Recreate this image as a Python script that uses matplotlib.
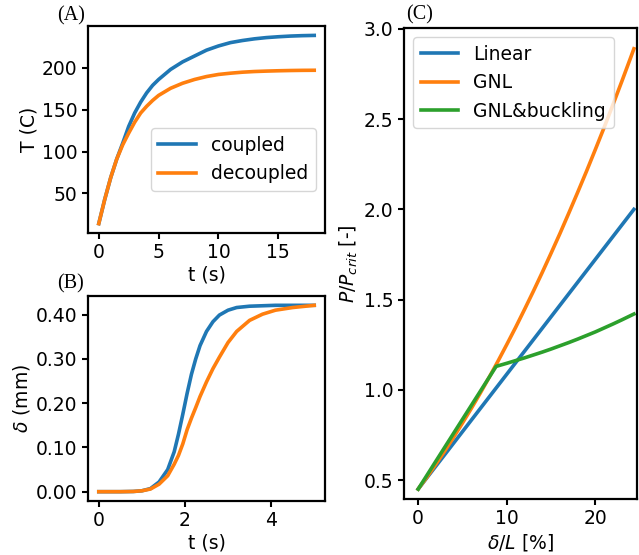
import matplotlib
matplotlib.use("Agg")
import matplotlib.pyplot as plt

# ---- data ----
# (A) temperature vs time
t_a = [0, 0.5, 1, 1.5, 2, 2.5, 3, 3.5, 4, 4.5, 5, 6, 7, 8, 9, 10, 11, 12, 13, 14,
       15, 16, 17, 18]
T_coupled = [14, 43, 69, 91, 110, 130, 146, 159, 170, 179, 186, 198, 207, 214,
             221, 226, 230, 232.5, 234.5, 236, 237, 237.8, 238.3, 238.6]
T_decoupled = [14, 43, 69, 91, 108, 122, 135, 146, 154, 161, 167, 175.5, 181.5,
               186, 189.5, 192, 193.5, 194.7, 195.5, 196, 196.4, 196.7, 196.9, 197]

# (B) deflection vs time
t_b = [0, 0.5, 0.8, 1.0, 1.2, 1.4, 1.6, 1.75, 1.85, 1.95, 2.05, 2.15, 2.25, 2.35,
       2.5, 2.65, 2.8, 3.0, 3.2, 3.5, 3.8, 4.1, 4.5, 5.0]
d_coupled = [0, 0, 0.0005, 0.002, 0.007, 0.022, 0.05, 0.09, 0.13, 0.175, 0.222,
             0.265, 0.30, 0.33, 0.362, 0.384, 0.399, 0.41, 0.416, 0.419, 0.42,
             0.421, 0.421, 0.421]
d_decoupled = [0, 0, 0.0005, 0.002, 0.006, 0.017, 0.036, 0.062, 0.082, 0.108, 0.14,
               0.166, 0.19, 0.215, 0.248, 0.278, 0.304, 0.337, 0.362, 0.387, 0.401,
               0.41, 0.416, 0.421]

# (C) load vs deflection
x_lin = [0, 24.35]
p_lin = [0.45, 2.0]
x_gnl = [0, 1, 2, 3, 4, 5, 6, 7, 8, 9, 10, 11, 12, 13, 14, 15, 16, 17, 18, 19,
         20, 21, 22, 23, 24, 24.35]
p_gnl = [0.45, 0.517, 0.588, 0.661, 0.737, 0.816, 0.897, 0.981, 1.068, 1.158,
         1.251, 1.346, 1.445, 1.546, 1.650, 1.757, 1.866, 1.979, 2.094, 2.211,
         2.332, 2.455, 2.582, 2.711, 2.843, 2.89]
x_buck = [0, 8.8, 10, 11, 12, 13, 14, 15, 16, 17, 18, 19, 20, 21, 22, 23, 24.35]
p_buck = [0.45, 1.13, 1.147, 1.162, 1.177, 1.193, 1.209, 1.226, 1.244, 1.262,
          1.281, 1.301, 1.321, 1.343, 1.365, 1.388, 1.42]

plt.rcParams['font.size'] = 13.5
plt.rcParams['axes.linewidth'] = 1.6
plt.rcParams['xtick.major.size'] = 4.5
plt.rcParams['ytick.major.size'] = 4.5
plt.rcParams['xtick.major.width'] = 1.5
plt.rcParams['ytick.major.width'] = 1.5
plt.rcParams['xtick.major.pad'] = 3
plt.rcParams['ytick.major.pad'] = 3
plt.rcParams['axes.labelpad'] = 2.5
plt.rcParams['lines.linewidth'] = 2.6

W, H = 639, 555
fig = plt.figure(figsize=(W / 100, H / 100), dpi=100)


def box(l, t, r, b):
    return [l / W, 1 - b / H, (r - l) / W, (b - t) / H]


axA = fig.add_axes(box(88, 26, 325, 233))
axB = fig.add_axes(box(88, 296, 325, 501))
axC = fig.add_axes(box(404, 28, 637, 499))

# (A)
axA.plot(t_a, T_coupled, color='C0', label='coupled')
axA.plot(t_a, T_decoupled, color='C1', label='decoupled')
axA.set_xticks([0, 5, 10, 15])
axA.set_yticks([50, 100, 150, 200])
axA.set_xlabel('t (s)')
axA.set_ylabel('T (C)')
axA.legend(loc='center right', bbox_to_anchor=(1.0, 0.355))

# (B)
axB.plot(t_b, d_coupled, color='C0')
axB.plot(t_b, d_decoupled, color='C1')
axB.set_xticks([0, 2, 4])
axB.set_yticks([0, 0.1, 0.2, 0.3, 0.4])
axB.set_yticklabels(['%.2f' % v for v in [0, 0.1, 0.2, 0.3, 0.4]])
axB.set_xlabel('t (s)')
axB.set_ylabel(r'$\delta$ (mm)')

# (C)
axC.plot(x_lin, p_lin, color='C0', label='Linear')
axC.plot(x_gnl, p_gnl, color='C1', label='GNL')
axC.plot(x_buck, p_buck, color='C2', label='GNL&buckling')
axC.set_xlim(-1.6, 24.7)
axC.set_ylim(0.395, 3.005)
axC.set_xticks([0, 10, 20])
axC.set_yticks([0.5, 1.0, 1.5, 2.0, 2.5, 3.0])
axC.set_xlabel(r'$\delta/L$ [%]')
axC.set_ylabel(r'$P/P_{crit}$ [-]')
axC.legend(loc='upper left')

# panel tags
for txt, px, py in [('(A)', 71, 16), ('(B)', 71, 284), ('(C)', 420, 15)]:
    fig.text(px / W, 1 - py / H, txt, ha='center', va='center',
             family='Liberation Serif', fontsize=14.5)

fig.savefig('out.png', dpi=100)
